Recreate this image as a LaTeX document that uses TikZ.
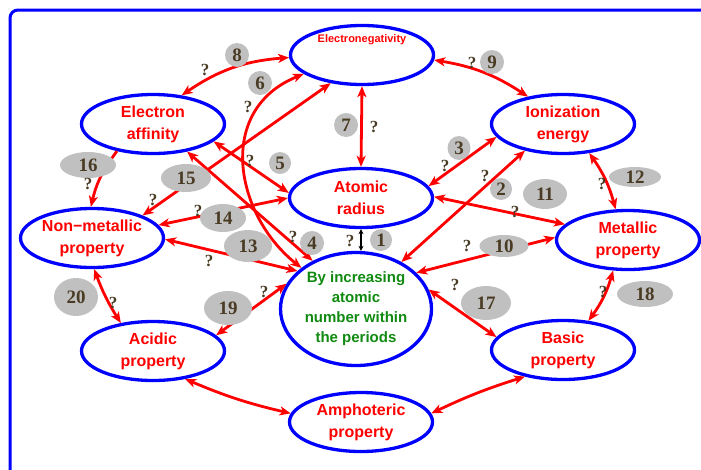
\documentclass[tikz,border=0pt]{standalone}
\usepackage{fontspec}
\setmainfont{Liberation Sans}
\newfontfamily\numfont{Liberation Serif}
\usetikzlibrary{shapes.geometric,arrows.meta}
\definecolor{numbrown}{HTML}{4A3B24}
\definecolor{labgray}{HTML}{C0C0C0}
\definecolor{grn}{HTML}{108A10}
\begin{document}
\begin{tikzpicture}[x=1pt,y=-1pt,
  >={Stealth[length=11pt,width=9pt,inset=3pt]},
  prop/.style={ellipse, draw=blue, fill=white, line width=3.3pt, minimum width=143pt, minimum height=59pt, inner sep=0pt, align=center, text=red, font=\fontsize{16}{22}\selectfont\bfseries},
  conn/.style={red, line width=2.8pt, <->},
  numlab/.style={ellipse, fill=labgray, inner sep=0pt, text=numbrown, font=\numfont\bfseries\fontsize{19}{19}\selectfont},
  qm/.style={inner sep=0pt, text=numbrown, font=\numfont\bfseries\fontsize{17}{17}\selectfont}]
\useasboundingbox (0,0) rectangle (701,469);
\clip (0,0) rectangle (701,469);
\draw[blue, line width=3pt, rounded corners=8pt] (10,10) rectangle (730,500);

% property ellipses
\node[prop] (en) at (362,55) {};
\node[inner sep=0pt, text=red, font=\fontsize{11}{13}\selectfont\bfseries] (ent) at (362,40) {Electronegativity};
\node[prop] (ea) at (153,124) {Electron\\affinity};
\node[prop] (ie) at (563,124) {Ionization\\energy};
\node[prop] (ar) at (361,198) {Atomic\\radius};
\node[prop] (nm) at (92,238) {Non\textminus metallic\\property};
\node[prop] (mp) at (628,240) {Metallic\\property};
\node[prop, minimum width=151pt, minimum height=113pt, text=grn, font=\fontsize{15}{20}\selectfont\bfseries] (bi) at (356,309) {By increasing\\atomic\\number within\\the periods};
\node[prop] (ac) at (153,351) {Acidic\\property};
\node[prop] (bp) at (563,350) {Basic\\property};
\node[prop] (am) at (361,422) {Amphoteric\\property};

% connectors
\draw[black, line width=1.6pt, {Stealth[length=5pt,width=5pt]}-{Stealth[length=5pt,width=5pt]}] (ar.south) -- (ar.south |- bi.north);
\draw[conn] (bi.46.7) -- (ie.215);
\draw[conn] (ar.10) -- (ie.191.6);
\draw[conn] (ea.-39.6) -- (bi.132);
\draw[conn] (ea.-16.3) -- (ar.176);
\draw[conn] (bi.143.7) .. controls (235,215) and (215,110) .. (en.198.4);
\draw[conn] (en.-90) -- (ar.90);
\draw[conn] (ea.45) to[bend left=15] (en.182);
\draw[conn] (en.-4) to[bend left=12] (ie.142);
\draw[conn] (bi.31.8) -- (mp.178.5);
\draw[conn] (ar.1) -- (mp.166.4);
\draw[conn] (ie.-48) to[bend left=10] (mp.112.8);
\draw[conn] (nm.-1) -- (bi.147.4);
\draw[conn] (nm.11.6) -- (ar.180);
\draw[conn] (nm.24.4) -- (en.222);
\draw[red, line width=2.8pt, ->] (ea.217) to[bend right=12] (nm.92);
\draw[conn] (bi.15.6) -- (bp.169);
\draw[conn] (mp.244) to[bend left=10] (bp.49);
\draw[conn] (bi.160) -- (ac.14.7);
\draw[conn] (nm.-86) to[bend right=6] (ac.139.5);
\draw[conn] (ac.-41.4) to[bend right=5] (am.173.7);
\draw[conn] (bp.215) to[bend right=4] (am.7.2);

% number labels
\node[numlab, minimum width=22pt, minimum height=22pt] (n1) at (381,240) {1};
\node[numlab, minimum width=22pt, minimum height=22pt] (n2) at (501,189) {2};
\node[numlab, minimum width=23pt, minimum height=24pt] (n3) at (459,148) {3};
\node[numlab, minimum width=24pt, minimum height=24pt] (n4) at (312,243) {4};
\node[numlab, minimum width=22pt, minimum height=22pt] (n5) at (280,163) {5};
\node[numlab, minimum width=24pt, minimum height=24pt] (n6) at (260,83) {6};
\node[numlab, minimum width=24pt, minimum height=24pt] (n7) at (346,125) {7};
\node[numlab, minimum width=24pt, minimum height=24pt] (n8) at (237,55) {8};
\node[numlab, minimum width=24pt, minimum height=24pt] (n9) at (492,62) {9};
\node[numlab, minimum width=49pt, minimum height=22pt] (n10) at (504,246) {10};
\node[numlab, minimum width=44pt, minimum height=30pt] (n11) at (545,194) {11};
\node[numlab, minimum width=52pt, minimum height=20pt] (n12) at (635,177) {12};
\node[numlab, minimum width=48pt, minimum height=32pt] (n13) at (248,246) {13};
\node[numlab, minimum width=46pt, minimum height=28pt] (n14) at (223,218) {14};
\node[numlab, minimum width=50pt, minimum height=28pt] (n15) at (186,178) {15};
\node[numlab, minimum width=56pt, minimum height=26pt] (n16) at (88,165) {16};
\node[numlab, minimum width=50pt, minimum height=34pt] (n17) at (486,303) {17};
\node[numlab, minimum width=56pt, minimum height=26pt] (n18) at (645,294) {18};
\node[numlab, minimum width=48pt, minimum height=34pt] (n19) at (228,308) {19};
\node[numlab, minimum width=44pt, minimum height=38pt] (n20) at (76,297) {20};

% question marks
\node[qm] (q1) at (350,241) {?};
\node[qm] (q2) at (485,176) {?};
\node[qm] (q3) at (445,166) {?};
\node[qm] (q4) at (293,237) {?};
\node[qm] (q5) at (250,161) {?};
\node[qm] (q6) at (248,107) {?};
\node[qm] (q7) at (374,127) {?};
\node[qm] (q8) at (205,70) {?};
\node[qm] (q9) at (472,63) {?};
\node[qm] (q10) at (467,246) {?};
\node[qm] (q11) at (515,212) {?};
\node[qm] (q12) at (602,184) {?};
\node[qm] (q13) at (209,261) {?};
\node[qm] (q14) at (198,211) {?};
\node[qm] (q15) at (153,200) {?};
\node[qm] (q16) at (88,184) {?};
\node[qm] (q17) at (455,285) {?};
\node[qm] (q18) at (603,292) {?};
\node[qm] (q19) at (264,292) {?};
\node[qm] (q20) at (113,303) {?};
\end{tikzpicture}
\end{document}
